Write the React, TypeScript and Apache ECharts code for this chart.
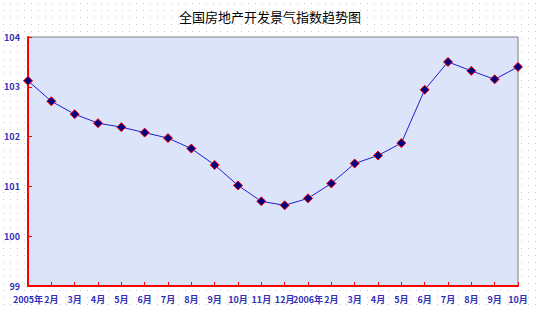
import React, { useEffect, useRef } from "react";
import * as echarts from "echarts";

const titleText = "全国房地产开发景气指数趋势图";
const categories = [
  "2005年", "2月", "3月", "4月", "5月", "6月", "7月", "8月", "9月", "10月", "11月", "12月",
  "2006年", "2月", "3月", "4月", "5月", "6月", "7月", "8月", "9月", "10月",
];
const indexValues = [
  103.12, 102.71, 102.45, 102.27, 102.19, 102.08, 101.97, 101.76, 101.43, 101.02, 100.70, 100.62,
  100.76, 101.06, 101.46, 101.62, 101.87, 102.94, 103.50, 103.32, 103.15, 103.40,
];
const yMin = 99;
const yMax = 104;
const yInterval = 1;

export default function App() {
  const ref = useRef<HTMLDivElement>(null);
  useEffect(() => {
    if (!ref.current) return;
    const chart = echarts.init(ref.current, null, { renderer: "svg" });
    const labelColor = "#3030b8";
    chart.setOption({
      animation: false,
      backgroundColor: "transparent",
      title: {
        text: titleText,
        left: "center",
        top: 5,
        textStyle: { fontSize: 13, fontWeight: "normal", color: "#000", fontFamily: "Noto Sans CJK SC" },
      },
      grid: {
        left: 28,
        right: 22,
        top: 37,
        bottom: 25,
        show: true,
        backgroundColor: "#dbe4f8",
        borderColor: "#808080",
        borderWidth: 1,
      },
      xAxis: {
        type: "category",
        data: categories,
        boundaryGap: false,
        axisLine: { show: true, lineStyle: { color: "#ff0000", width: 2 } },
        axisTick: { show: true, inside: true, length: 4, lineStyle: { color: "#ff0000", width: 1 } },
        axisLabel: {
          color: labelColor,
          fontSize: 9,
          lineHeight: 10,
          fontWeight: "bold",
          fontFamily: "Noto Sans CJK SC",
          margin: 8,
          interval: 0,
        },
        splitLine: { show: false },
      },
      yAxis: {
        type: "value",
        min: yMin,
        max: yMax,
        interval: yInterval,
        axisLine: { show: true, lineStyle: { color: "#ff0000", width: 2 } },
        axisTick: { show: true, inside: true, length: 4, lineStyle: { color: "#ff0000", width: 1 } },
        axisLabel: {
          color: labelColor,
          fontSize: 9,
          lineHeight: 10,
          fontWeight: "bold",
          fontFamily: "Noto Sans CJK SC",
          margin: 8,
        },
        splitLine: { show: false },
      },
      series: [
        {
          type: "line",
          data: indexValues,
          symbol: "diamond",
          symbolSize: 9,
          lineStyle: { color: "#2020d0", width: 1 },
          itemStyle: { color: "#000080", borderColor: "#ff0000", borderWidth: 1 },
        },
      ],
    });
    return () => chart.dispose();
  }, []);
  return (
    <div
      style={{
        position: "fixed",
        left: 0,
        top: 0,
        width: 540,
        height: 311,
        backgroundColor: "#ffffff",
        backgroundImage: "radial-gradient(circle, #c8c8c8 0.8px, transparent 1px)",
        backgroundSize: "7px 7px",
      }}
    >
      <div ref={ref} style={{ width: 540, height: 311 }} />
    </div>
  );
}
